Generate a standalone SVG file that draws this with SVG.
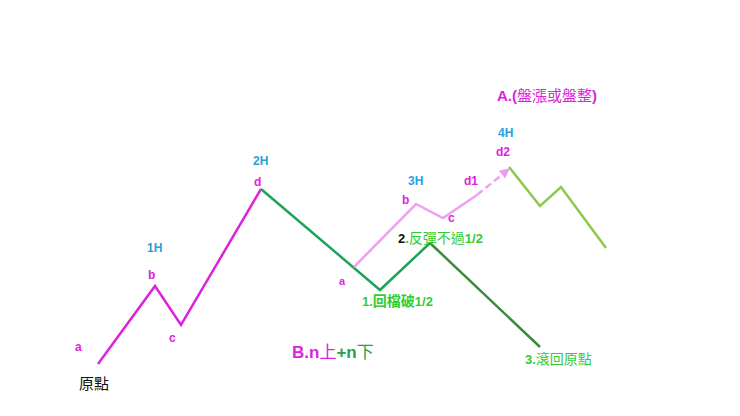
<svg xmlns="http://www.w3.org/2000/svg" width="740" height="416" viewBox="0 0 740 416">
<style>
.l{font-family:"Liberation Sans","Noto Sans",sans-serif;font-weight:bold;font-size:12px}
.m{fill:#dd22dd}
.h{fill:#2aa0d8}
.g{fill:#33cc33}
.cj{font-family:"Noto Sans CJK TC","Noto Sans CJK SC",serif;font-size:14px}
.t{font-size:13px}
.ln{fill:none;stroke-width:2.5;stroke-linejoin:miter}
</style>
<defs>
<marker id="arr" viewBox="0 0 10 10" refX="9" refY="5" markerWidth="4" markerHeight="4" orient="auto">
<path d="M0,0 L10,5 L0,10 z" fill="#ee99ee"/>
</marker>
</defs>
<rect width="740" height="416" fill="#ffffff"/>
<g id="connectors">
<polyline class="ln" stroke="#dd22dd" points="98,364 155,286 181,325 261,189"/>
<polyline class="ln" stroke="#1ea35a" points="261,189 380,290 430,243"/>
<polyline class="ln" stroke="#3b8a3b" points="430,243 540,347"/>
<polyline class="ln" stroke="#f0a0f0" points="354,267 416,204 443,218 477,195"/>
<line class="ln" stroke="#f0a0f0" stroke-dasharray="7,4" x1="477" y1="195" x2="509" y2="169" marker-end="url(#arr)"/>
<polyline class="ln" stroke="#8cc84b" points="509,167 540,206 561,187 606,248"/>
</g>
<g id="wave1">
<text class="l m" x="75" y="351">a</text>
<text class="cj" x="79" y="389" fill="#111" style="font-size:15px">原點</text>
<text class="l m" x="148" y="279">b</text>
<text class="l h" x="147" y="252">1H</text>
<text class="l m" x="169" y="342">c</text>
<text class="l h" x="253" y="165">2H</text>
<text class="l m" x="254" y="186">d</text>
</g>
<g id="wave2">
<text class="l m" x="339" y="285" style="font-size:11px">a</text>
<text class="cj g" x="362" y="306" style="font-weight:bold"><tspan class="l t">1.</tspan>回檔破<tspan class="l t">1/2</tspan></text>
<text class="cj g" x="398" y="243"><tspan class="l t" fill="#111">2</tspan><tspan class="l t">.</tspan>反彈不過<tspan class="l t">1/2</tspan></text>
<text class="cj g" x="525" y="364"><tspan class="l t">3.</tspan>滾回原點</text>
</g>
<g id="wave3">
<text class="l m" x="402" y="204">b</text>
<text class="l h" x="408" y="185">3H</text>
<text class="l m" x="448" y="222">c</text>
<text class="l m" x="464" y="185">d1</text>
<text class="l h" x="498" y="137">4H</text>
<text class="l m" x="496" y="156">d2</text>
<text class="cj m" x="497" y="101" style="font-size:15px"><tspan class="l" style="font-size:15px">A.(</tspan>盤漲或盤整<tspan class="l" style="font-size:15px">)</tspan></text>
</g>
<g id="title">
<text x="292" y="358" style="font-size:17px"><tspan class="l m" style="font-size:17px">B.n</tspan><tspan class="cj m" style="font-size:17px">上</tspan><tspan class="l" fill="#22a050" style="font-size:17px">+n</tspan><tspan class="cj" fill="#22a050" style="font-size:17px">下</tspan></text>
</g>
</svg>
